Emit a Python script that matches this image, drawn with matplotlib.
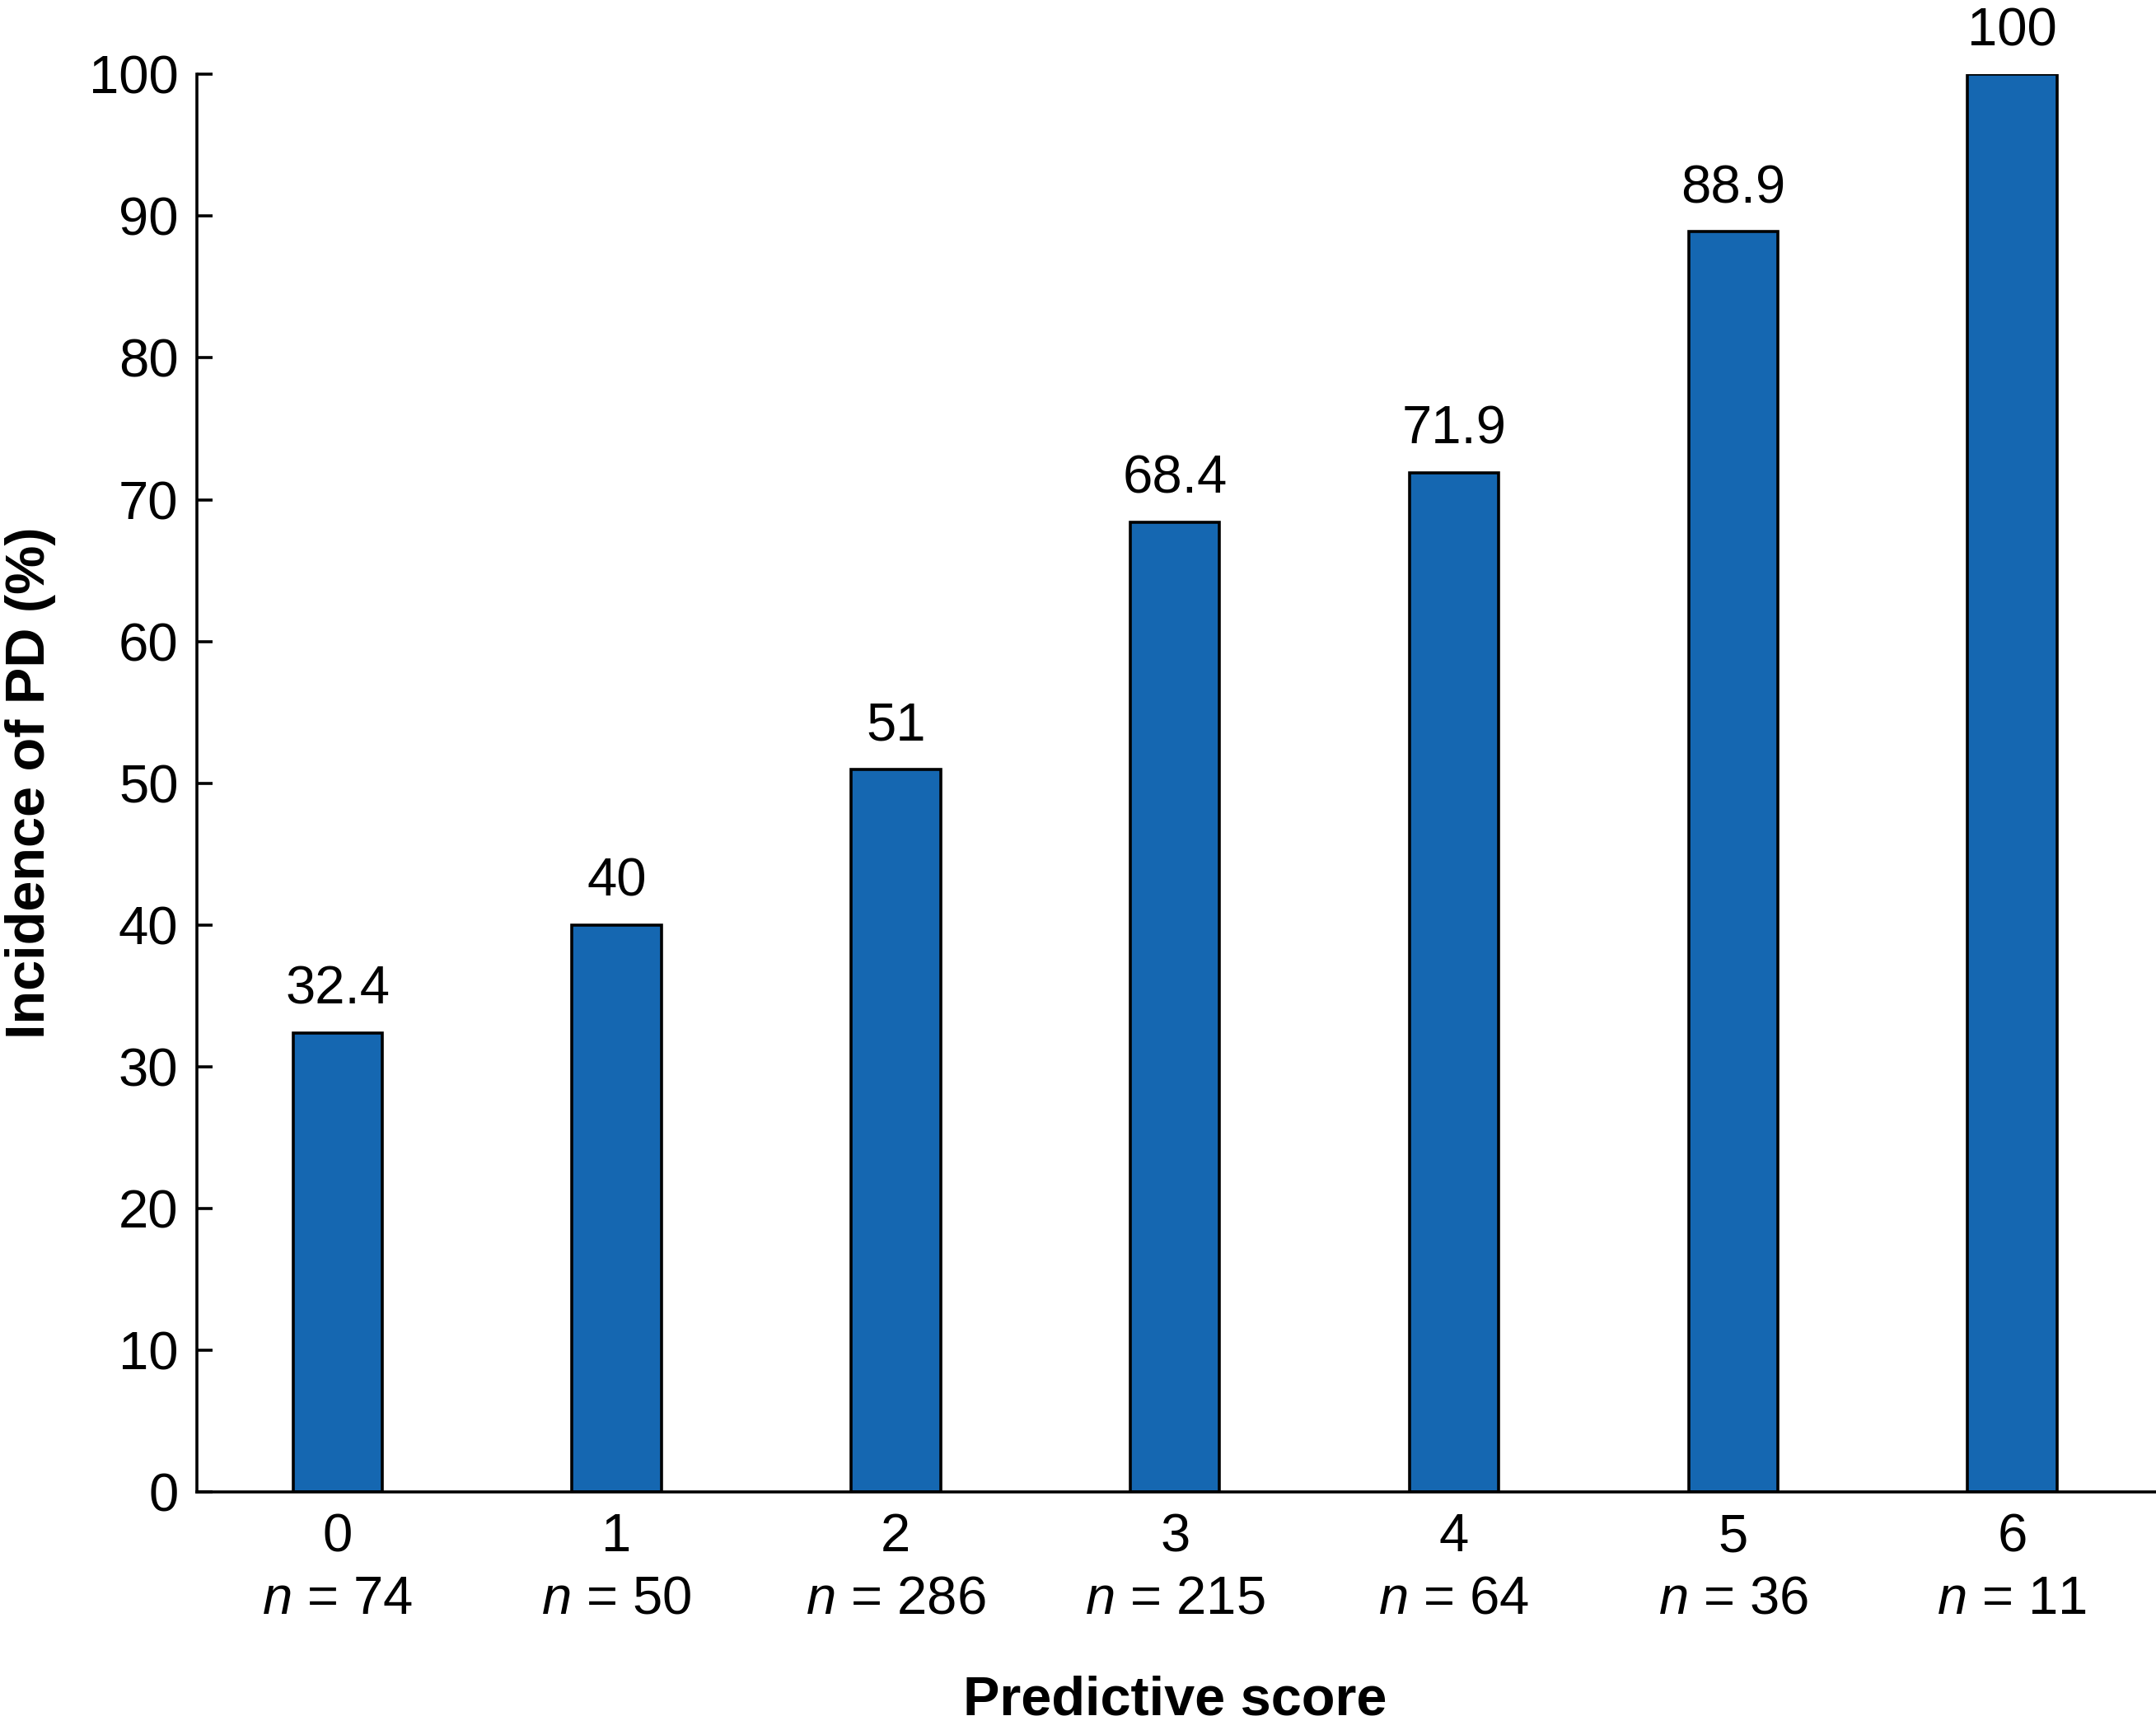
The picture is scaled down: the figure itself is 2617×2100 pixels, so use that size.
import numpy as np
import matplotlib.pyplot as plt

scores = [0, 1, 2, 3, 4, 5, 6]
incidence = [32.4, 40, 51, 68.4, 71.9, 88.9, 100]
n_patients = [74, 50, 286, 215, 64, 36, 11]

plt.rcParams['font.family'] = ['Liberation Sans', 'DejaVu Sans']
plt.rcParams['mathtext.fontset'] = 'custom'
plt.rcParams['mathtext.rm'] = 'Liberation Sans'
plt.rcParams['mathtext.it'] = 'Liberation Sans:italic'

fig = plt.figure(figsize=(26.17, 21.0), dpi=100)
ax = fig.add_axes([0.0912, 0.1375, 0.9088, 0.8195])

ax.bar(scores, incidence, width=0.32, color='#1567B1', edgecolor='black', linewidth=2.6, zorder=2)

for x, v in zip(scores, incidence):
    ax.annotate(f'{v:g}', (x, v), xytext=(0, 16), textcoords='offset points',
                ha='center', va='bottom', fontsize=47)

ax.set_xlim(-0.505, 6.515)
ax.set_ylim(0, 100)
ax.set_yticks(np.arange(0, 101, 10))
ax.set_xticks(scores)
ax.set_xticklabels([str(s) for s in scores])

for x, n in zip(scores, n_patients):
    ax.text(x, -0.0757, f'$n$ = {n}', transform=ax.get_xaxis_transform(),
            ha='center', va='center', fontsize=47)

ax.spines['top'].set_visible(False)
ax.spines['right'].set_visible(False)
ax.spines['left'].set_linewidth(2.6)
ax.spines['bottom'].set_linewidth(2.6)
ax.tick_params(axis='y', direction='in', length=14, width=2.6, pad=16, labelsize=47)
ax.tick_params(axis='x', length=0, pad=18, labelsize=47)

fig.text(0.0141, 0.5477, 'Incidence of PD (%)', rotation=90, ha='center', va='center',
         fontsize=48, fontweight='bold')
fig.text(0.545, 0.0170, 'Predictive score', ha='center', va='center',
         fontsize=48, fontweight='bold')

fig.savefig('out.png', dpi=100)
